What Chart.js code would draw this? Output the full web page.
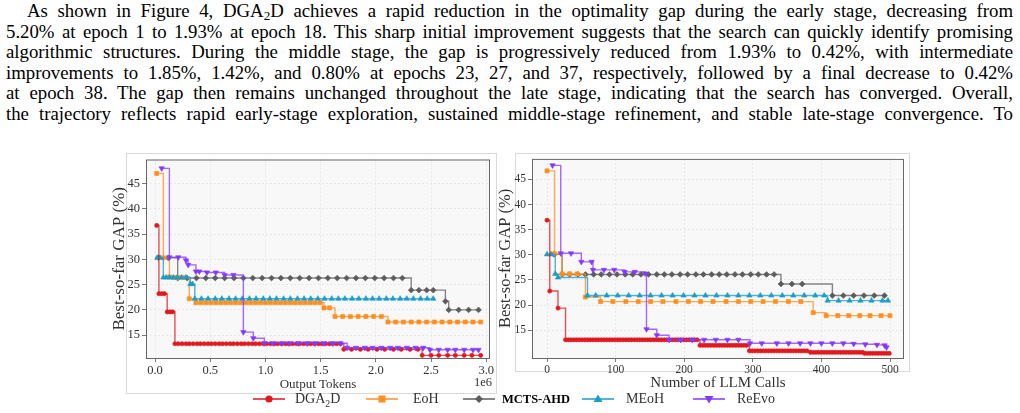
<!doctype html>
<html>
<head>
<title>Best-so-far GAP</title>
<script src="https://cdn.jsdelivr.net/npm/chart.js@4.4.1/dist/chart.umd.min.js"></script>
<style>
    body { margin: 0; width: 1020px; height: 413px; position: relative; background: #fff; overflow: hidden;
           font-family: "Liberation Serif", "Times New Roman", serif; }
    #para { position: absolute; left: 6px; top: 1px; width: 1007px; font-size: 18.8px; line-height: 20.5px; color: #000; }
    #para div { text-align: justify; text-align-last: justify; white-space: nowrap; }
    #para sub { font-size: 0.7em; vertical-align: -0.25em; line-height: 0; }
    .box { position: absolute; border: 1px solid #dadada; box-sizing: border-box; }
    canvas { position: absolute; }
    .leg { position: absolute; top: 391px; height: 16px; }
    .legtxt { position: absolute; top: 390px; font-size: 14px; color: #333; line-height: 18px; }
</style>
</head>

<body>
<div id="para">
    <div style="padding-left:21px">As shown in Figure 4, DGA<sub>2</sub>D achieves a rapid reduction in the optimality gap during the early stage, decreasing from</div>
    <div>5.20% at epoch 1 to 1.93% at epoch 18. This sharp initial improvement suggests that the search can quickly identify promising</div>
    <div>algorithmic structures. During the middle stage, the gap is progressively reduced from 1.93% to 0.42%, with intermediate</div>
    <div>improvements to 1.85%, 1.42%, and 0.80% at epochs 23, 27, and 37, respectively, followed by a final decrease to 0.42%</div>
    <div>at epoch 38. The gap then remains unchanged throughout the late stage, indicating that the search has converged. Overall,</div>
    <div>the trajectory reflects rapid early-stage exploration, sustained middle-stage refinement, and stable late-stage convergence. To</div>
</div>

<div class="box" style="left:126px; top:153px; width:371px; height:241px"></div>
<div class="box" style="left:515px; top:153px; width:395px; height:219px"></div>

<canvas id="tokens" width="400" height="245" style="left:100px; top:150px"></canvas>
<canvas id="calls" width="425" height="245" style="left:490px; top:150px"></canvas>

<!-- shared legend under both panels -->
<svg class="leg" style="left:253px" width="32" height="16"><line x1="0" y1="8" x2="32" y2="8" stroke="#e0191e" stroke-width="1.5"/><circle cx="16" cy="8" r="3.6" fill="#e0191e"/></svg>
<div class="legtxt" style="left:295px">DGA<sub style="font-size:0.7em">2</sub>D</div>
<svg class="leg" style="left:366px" width="32" height="16"><line x1="0" y1="8" x2="32" y2="8" stroke="#ff8f1f" stroke-width="1.5"/><rect x="12.5" y="4.5" width="7" height="7" fill="#ff8f1f"/></svg>
<div class="legtxt" style="left:413px">EoH</div>
<svg class="leg" style="left:463px" width="32" height="16"><line x1="0" y1="8" x2="32" y2="8" stroke="#5c5c5c" stroke-width="1.5"/><polygon points="16,4 20,8 16,12 12,8" fill="#5c5c5c"/></svg>
<div class="legtxt" style="left:502px; font-weight:bold; font-size:12.5px; color:#000">MCTS-AHD</div>
<svg class="leg" style="left:582px" width="32" height="16"><line x1="0" y1="8" x2="32" y2="8" stroke="#1a9dc8" stroke-width="1.5"/><polygon points="16,3.5 20.5,11 11.5,11" fill="#1a9dc8"/></svg>
<div class="legtxt" style="left:626px">MEoH</div>
<svg class="leg" style="left:693px" width="32" height="16"><line x1="0" y1="8" x2="32" y2="8" stroke="#8438ff" stroke-width="1.5"/><polygon points="11.5,5 20.5,5 16,12.5" fill="#8438ff"/></svg>
<div class="legtxt" style="left:737px">ReEvo</div>

<script>
    const seriesNames = ['DGA\u2082D', 'EoH', 'MCTS-AHD', 'MEoH', 'ReEvo'];
    const seriesColors = ['#e0191e', '#ff8f1f', '#5c5c5c', '#1a9dc8', '#8438ff'];

    const gapTicks = [15, 20, 25, 30, 35, 40, 45];
    const tokenTicks = [0, 0.5, 1.0, 1.5, 2.0, 2.5, 3.0];
    const callTicks = [0, 100, 200, 300, 400, 500];

    // left panel: [output tokens (1e6), best-so-far gap %]
    const dgaTokens = [[0.015,36.7],[0.035,23.2],[0.06,23.2],[0.085,23.2],[0.11,19.6],[0.135,19.6],[0.16,19.6],
        [0.18,13.3],[0.21,13.3],[0.245,13.3],[0.28,13.3],[0.31,13.3],[0.345,13.3],[0.38,13.3],[0.41,13.3],[0.445,13.3],
        [0.48,13.3],[0.51,13.3],[0.545,13.3],[0.58,13.3],[0.61,13.3],[0.645,13.3],[0.68,13.3],[0.71,13.3],[0.745,13.3],
        [0.78,13.3],[0.81,13.3],[0.845,13.3],[0.88,13.3],[0.91,13.3],[0.945,13.3],[0.98,13.3],[1.01,13.3],[1.045,13.3],
        [1.08,13.3],[1.11,13.3],[1.145,13.3],[1.18,13.3],[1.21,13.3],[1.245,13.3],[1.28,13.3],[1.31,13.3],[1.345,13.3],
        [1.38,13.3],[1.41,13.3],[1.445,13.3],[1.48,13.3],[1.51,13.3],[1.545,13.3],[1.58,13.3],[1.61,13.3],[1.645,13.3],
        [1.68,13.3],[1.71,12.2],[1.78,12.2],[1.86,12.2],[1.93,12.2],[2.01,12.2],[2.08,12.2],[2.16,12.2],[2.23,12.2],
        [2.31,12.2],[2.38,12.2],[2.42,11.0],[2.5,11.0],[2.57,11.0],[2.65,11.0],[2.72,11.0],[2.8,11.0],[2.87,11.0],[2.95,11.0]];
    const eohTokens = [[0.015,47.0],[0.075,30.3],[0.13,26.5],[0.17,26.4],[0.21,26.4],[0.25,26.4],[0.31,22.2],[0.37,21.4],
        [0.415,21.4],[0.46,21.4],[0.505,21.4],[0.55,21.4],[0.595,21.4],[0.64,21.4],[0.685,21.4],[0.73,21.4],[0.775,21.4],
        [0.82,21.4],[0.865,21.4],[0.91,21.4],[0.955,21.4],[1.0,21.4],[1.045,21.4],[1.09,21.4],[1.135,21.4],[1.18,21.4],
        [1.225,21.4],[1.27,21.4],[1.315,21.4],[1.36,21.4],[1.405,21.4],[1.45,21.4],[1.495,21.4],[1.53,20.4],[1.58,20.4],
        [1.63,18.7],[1.7,18.7],[1.77,18.7],[1.84,18.7],[1.91,18.7],[1.98,18.7],[2.05,18.7],[2.11,17.6],[2.18,17.6],
        [2.25,17.6],[2.32,17.6],[2.39,17.6],[2.46,17.6],[2.53,17.6],[2.6,17.6],[2.67,17.6],[2.74,17.6],[2.81,17.6],
        [2.88,17.6],[2.95,17.6]];
    const mctsTokens = [[0.03,30.3],[0.12,30.3],[0.205,26.3],[0.29,26.3],[0.375,26.3],[0.46,26.3],[0.545,26.3],[0.63,26.3],
        [0.715,26.3],[0.8,26.3],[0.885,26.3],[0.97,26.3],[1.055,26.3],[1.14,26.3],[1.225,26.3],[1.31,26.3],[1.395,26.3],
        [1.48,26.3],[1.565,26.3],[1.65,26.3],[1.735,26.3],[1.82,26.3],[1.905,26.3],[1.99,26.3],[2.075,26.3],[2.16,26.3],
        [2.24,26.3],[2.32,23.9],[2.39,23.9],[2.46,23.9],[2.52,23.9],[2.63,21.7],[2.66,20.0],[2.75,20.0],[2.84,20.0],[2.93,20.0]];
    const meohTokens = [[0.02,30.3],[0.045,30.3],[0.075,26.4],[0.1,26.4],[0.13,26.4],[0.165,26.4],[0.2,26.4],[0.24,26.4],
        [0.28,26.4],[0.32,25.1],[0.34,25.1],[0.36,22.2],[0.42,22.2],[0.48,22.2],[0.545,22.2],[0.605,22.2],[0.67,22.2],
        [0.73,22.2],[0.79,22.2],[0.855,22.2],[0.915,22.2],[0.98,22.2],[1.04,22.2],[1.1,22.2],[1.165,22.2],[1.225,22.2],
        [1.29,22.2],[1.35,22.2],[1.41,22.2],[1.475,22.2],[1.535,22.2],[1.6,22.2],[1.66,22.2],[1.72,22.2],[1.785,22.2],
        [1.845,22.2],[1.91,22.2],[1.97,22.2],[2.03,22.2],[2.095,22.2],[2.155,22.2],[2.22,22.2],[2.28,22.2],[2.34,22.2],
        [2.405,22.2],[2.465,22.2],[2.52,22.2]];
    const reevoTokens = [[0.06,48.0],[0.13,30.4],[0.21,30.4],[0.28,29.8],[0.3,28.9],[0.37,27.6],[0.4,27.6],[0.47,27.4],
        [0.55,27.4],[0.63,26.9],[0.71,26.9],[0.8,15.6],[0.89,14.4],[0.99,13.4],[1.07,13.4],[1.15,13.4],[1.22,13.4],
        [1.3,13.4],[1.38,13.4],[1.45,13.4],[1.53,13.4],[1.61,13.4],[1.68,13.4],[1.74,12.5],[1.82,12.5],[1.9,12.5],
        [1.97,12.5],[2.05,12.5],[2.13,12.5],[2.2,12.5],[2.28,12.5],[2.36,12.5],[2.43,12.5],[2.49,12.1],[2.57,12.1],
        [2.65,12.1],[2.72,12.1],[2.8,12.1],[2.88,12.1],[2.93,12.1]];

    // right panel: [number of LLM calls, best-so-far gap %]
    const dgaCalls = [[0,36.9],[4,22.8],[16,19.4],[27,13.1],[31,13.1],[35,13.1],[39,13.1],[43,13.1],[47,13.1],[51,13.1],
        [55,13.1],[59,13.1],[63,13.1],[67,13.1],[71,13.1],[75,13.1],[79,13.1],[83,13.1],[87,13.1],[91,13.1],[95,13.1],
        [99,13.1],[103,13.1],[107,13.1],[111,13.1],[115,13.1],[119,13.1],[123,13.1],[127,13.1],[131,13.1],[135,13.1],
        [139,13.1],[143,13.1],[147,13.1],[151,13.1],[155,13.1],[159,13.1],[163,13.1],[167,13.1],[171,13.1],[175,13.1],
        [179,13.1],[183,13.1],[187,13.1],[191,13.1],[195,13.1],[199,13.1],[203,13.1],[207,13.1],[211,13.1],[215,13.1],
        [219,13.1],[223,12.0],[227,12.0],[231,12.0],[235,12.0],[239,12.0],[243,12.0],[247,12.0],[251,12.0],[255,12.0],
        [259,12.0],[263,12.0],[267,12.0],[271,12.0],[275,12.0],[279,12.0],[283,12.0],[287,12.0],[291,12.0],[295,10.9],
        [299,10.9],[303,10.9],[307,10.9],[311,10.9],[315,10.9],[319,10.9],[323,10.9],[327,10.9],[331,10.9],[335,10.9],
        [339,10.9],[343,10.9],[347,10.9],[351,10.9],[355,10.9],[359,10.9],[363,10.9],[367,10.9],[371,10.9],[375,10.9],
        [379,10.9],[384,10.6],[388,10.6],[392,10.6],[396,10.6],[400,10.6],[404,10.6],[408,10.6],[412,10.6],[416,10.6],
        [420,10.6],[424,10.6],[428,10.6],[432,10.6],[436,10.6],[440,10.6],[444,10.6],[448,10.6],[452,10.6],[456,10.6],
        [460,10.6],[463,10.4],[467,10.4],[471,10.4],[475,10.4],[479,10.4],[483,10.4],[487,10.4],[491,10.4],[495,10.4],[499,10.4]];
    const eohCalls = [[0,46.7],[11,30.2],[22,26.2],[33,26.2],[44,26.2],[56,21.6],[78,20.7],[96,20.7],[115,20.7],[133,20.7],
        [151,20.7],[169,20.7],[188,20.7],[206,20.7],[224,20.7],[242,20.7],[261,20.7],[279,20.7],[297,20.7],[315,20.7],
        [333,20.7],[352,20.7],[370,20.7],[388,18.5],[407,17.9],[424,17.9],[440,17.9],[456,17.9],[471,17.9],[487,17.9],[500,17.9]];
    const mctsCalls = [[10,30.1],[22,26.1],[33,26.1],[45,26.1],[56,26.1],[68,26.1],[79,26.1],[91,26.1],[102,26.1],[114,26.1],
        [125,26.1],[137,26.1],[148,26.1],[160,26.1],[171,26.1],[182,26.1],[194,26.1],[205,26.1],[217,26.1],[228,26.1],
        [240,26.1],[251,26.1],[262,26.1],[274,26.1],[285,26.1],[297,26.1],[308,26.1],[320,26.1],[331,26.1],[341,24.2],
        [357,24.2],[372,24.2],[416,21.9],[432,21.9],[447,21.9],[462,21.9],[477,21.9],[492,21.9]];
    const meohCalls = [[0,30.1],[6,30.1],[12,26.2],[16,25.5],[59,21.9],[71,21.9],[87,21.9],[103,21.9],[119,21.9],[135,21.9],
        [151,21.9],[167,21.9],[183,21.9],[199,21.9],[215,21.9],[231,21.9],[247,21.9],[263,21.9],[279,21.9],[295,21.9],
        [311,21.9],[327,21.9],[343,21.9],[359,21.9],[375,21.9],[391,21.9],[404,21.9],[409,20.9],[425,20.9],[441,20.9],
        [457,20.9],[473,20.9],[489,20.9],[497,20.9]];
    const reevoCalls = [[8,47.8],[20,30.3],[35,30.3],[50,28.6],[65,28.6],[67,27.0],[83,27.0],[98,27.0],[113,26.6],[128,26.6],
        [143,26.3],[145,15.2],[160,14.0],[178,13.1],[195,13.1],[212,13.1],[229,13.1],[246,13.1],[263,13.1],[279,13.1],
        [296,12.4],[313,12.4],[335,12.4],[352,12.4],[369,12.4],[384,12.4],[400,12.4],[416,12.4],[432,12.4],[447,12.3],
        [464,12.2],[481,12.1],[492,12.0],[495,11.6]];

    const markerStyle = ['circle', 'rect', 'rectRot', 'triangle', 'triangle'];
    const markerRot = [0, 0, 0, 0, 180];
    const markerSize = [2.1, 2.9, 2.9, 3.1, 3.1];
    const drawOrder = [2, 4, 5, 3, 1];
    const serif = '"Liberation Serif", "Times New Roman", serif';

    function fade(hex, a) {
        const n = parseInt(hex.slice(1), 16);
        return 'rgba(' + (n >> 16) + ',' + ((n >> 8) & 255) + ',' + (n & 255) + ',' + a + ')';
    }

    function series(i, pts) {
        return {
            label: seriesNames[i],
            data: pts.map(p => ({x: p[0], y: p[1]})),
            stepped: 'before',
            fill: false,
            borderColor: fade(seriesColors[i], 0.75),
            borderWidth: 1.4,
            pointStyle: markerStyle[i],
            pointRotation: markerRot[i],
            pointRadius: markerSize[i],
            pointBackgroundColor: seriesColors[i],
            pointBorderColor: seriesColors[i],
            pointBorderWidth: 0.6,
            order: drawOrder[i]
        };
    }

    // light plot background + dark frame round the plot area, and the 1e6 offset text
    const framePlugin = {
        id: 'frame',
        beforeDraw(chart) {
            const a = chart.chartArea, ctx = chart.ctx;
            ctx.save();
            ctx.fillStyle = '#f8f8f8';
            ctx.fillRect(a.left, a.top, a.right - a.left, a.bottom - a.top);
            ctx.restore();
        },
        afterDraw(chart) {
            const a = chart.chartArea, ctx = chart.ctx;
            ctx.save();
            ctx.strokeStyle = '#666';
            ctx.lineWidth = 1;
            ctx.strokeRect(a.left + 0.5, a.top + 0.5, a.right - a.left - 1, a.bottom - a.top);
            const extra = chart.options.plugins.frame;
            if (extra && extra.offsetText) {
                ctx.fillStyle = '#333';
                ctx.font = '12.5px ' + serif;
                ctx.textAlign = 'center';
                ctx.textBaseline = 'middle';
                ctx.fillText(extra.offsetText, a.right - 7, 233);
            }
            ctx.restore();
        }
    };

    function axes(xCfg, yCfg) {
        const grid = {color: '#e4e4e4', lineWidth: 0.8, tickColor: '#555', tickLength: 4};
        return {
            x: {
                type: 'linear', min: xCfg.min, max: xCfg.max,
                afterBuildTicks: s => { s.ticks = xCfg.ticks.map(v => ({value: v})); },
                afterFit: s => { s.height = xCfg.height; },
                ticks: {callback: xCfg.fmt, color: '#333', font: {family: serif, size: xCfg.tickSize}, padding: 1,
                        maxRotation: 0, autoSkip: false},
                grid: grid,
                border: {display: false, dash: [2, 2]},
                title: {display: true, text: xCfg.title, color: '#333', font: {family: serif, size: xCfg.titleSize},
                        padding: {top: 0, bottom: xCfg.titlePad}}
            },
            y: {
                type: 'linear', min: yCfg.min, max: yCfg.max,
                afterBuildTicks: s => { s.ticks = gapTicks.map(v => ({value: v})); },
                afterFit: s => { s.width = yCfg.width; },
                ticks: {color: '#333', font: {family: serif, size: yCfg.tickSize}, padding: 2, autoSkip: false},
                grid: grid,
                border: {display: false, dash: [2, 2]},
                title: {display: true, text: 'Best-so-far GAP (%)', color: '#333',
                        font: {family: serif, size: yCfg.titleSize}, padding: {top: yCfg.titlePad, bottom: 0}}
            }
        };
    }

    function chartIt(id, sets, scales, pad, offsetText) {
        return new Chart(document.getElementById(id), {
            type: 'line',
            data: {datasets: sets},
            options: {
                responsive: false,
                animation: false,
                layout: {padding: pad},
                plugins: {legend: {display: false}, tooltip: {enabled: false}, frame: {offsetText: offsetText}},
                scales: scales
            },
            plugins: [framePlugin]
        });
    }

    chartIt('tokens',
        [series(0, dgaTokens), series(1, eohTokens), series(2, mctsTokens), series(3, meohTokens), series(4, reevoTokens)],
        axes({min: -0.082, max: 3.034, ticks: tokenTicks, fmt: v => v.toFixed(1), height: 37, tickSize: 12.5,
              title: 'Output Tokens', titleSize: 13, titlePad: 3},
             {min: 10.48, max: 49.75, width: 46, tickSize: 12.5, titleSize: 17, titlePad: 9}),
        {top: 8, right: 10, left: 0, bottom: 0}, '1e6');

    chartIt('calls',
        [series(0, dgaCalls), series(1, eohCalls), series(2, mctsCalls), series(3, meohCalls), series(4, reevoCalls)],
        axes({min: -21.9, max: 520.4, ticks: callTicks, fmt: v => String(v), height: 37, tickSize: 11.5,
              title: 'Number of LLM Calls', titleSize: 15, titlePad: 3},
             {min: 9.48, max: 49.08, width: 42, tickSize: 11.5, titleSize: 16.5, titlePad: 6}),
        {top: 7, right: 11, left: 0, bottom: 0}, null);
</script>

</body>
</html>
